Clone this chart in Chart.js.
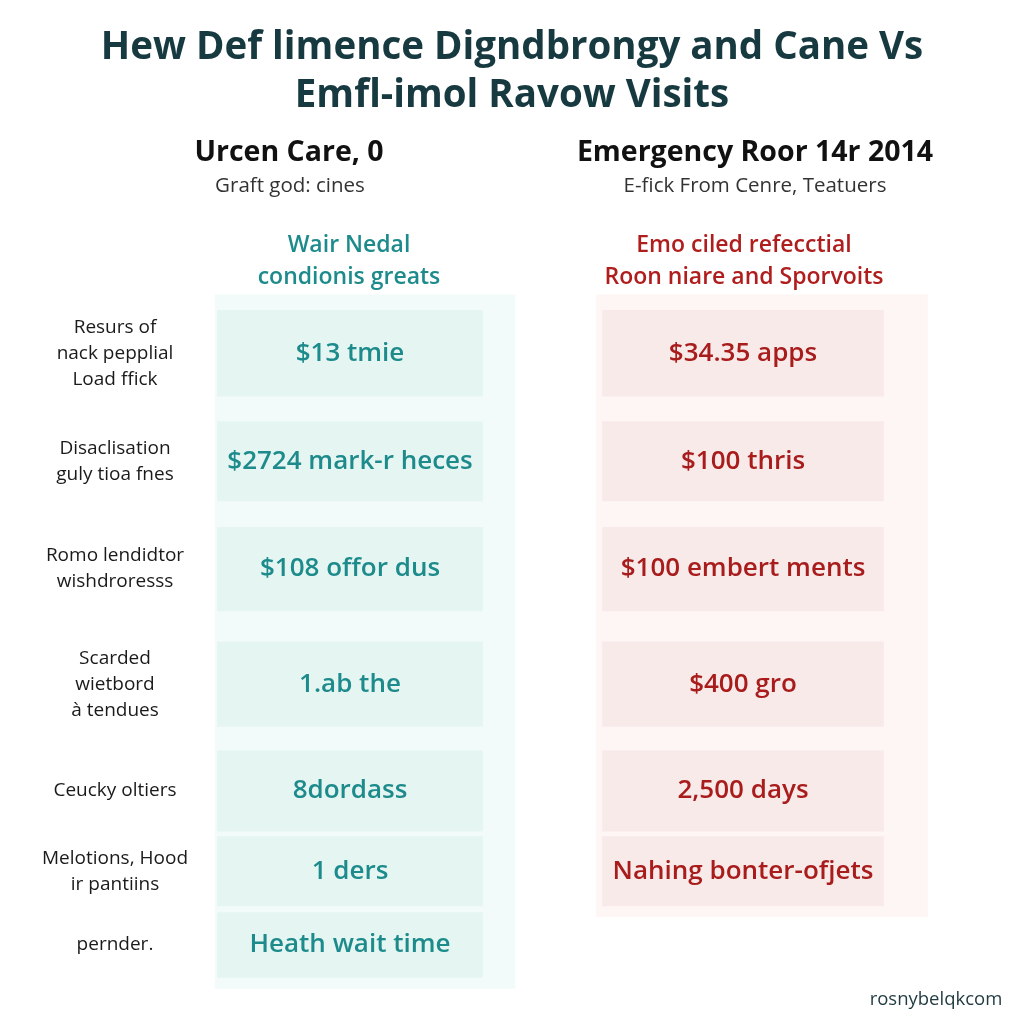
<html><head><meta charset="UTF-8">
<title>Urgent Care vs Emergency Room</title>
<style>
* { margin: 0; padding: 0; box-sizing: border-box; }
body { background: #ffffff; width: 1024px; height: 1024px; overflow: hidden; }
.wrap { position: relative; width: 1024px; height: 1024px; }
</style>
<script src="https://cdn.jsdelivr.net/npm/chart.js"></script>
</head>
<body>
<div class="wrap"><canvas id="table"></canvas></div>
<script>
// ---- data ----
const titleLines = ['Hew Def limence Digndbrongy and Cane Vs', 'Emfl-imol Ravow Visits'];
const columnTitles = ['Urcen Care, 0', 'Emergency Roor 14r 2014'];
const columnSubtitles = ['Graft god: cines', 'E-fick From Cenre, Teatuers'];
const groupHeads = [['Wair Nedal', 'condionis greats'], ['Emo ciled refecctial', 'Roon niare and Sporvoits']];
const rowLabels = [
  ['Resurs of', 'nack pepplial', 'Load ffick'],
  ['Disaclisation', 'guly tioa fnes'],
  ['Romo lendidtor', 'wishdroresss'],
  ['Scarded', 'wietbord', 'à tendues'],
  ['Ceucky oltiers'],
  ['Melotions, Hood', 'ir pantiins'],
  ['pernder.']
];
const urgentCare = ['$13 tmie', '$2724 mark-r heces', '$108 offor dus', '1.ab the', '8dordass', '1 ders', 'Heath wait time'];
const emergencyRoom = ['$34.35 apps', '$100 thris', '$100 embert ments', '$400 gro', '2,500 days', 'Nahing bonter-ofjets'];
const footerText = 'rosnybelqkcom';

// ---- layout (row units on the y scale, pixels on the x scale) ----
const rowWeights = [1, 0.96, 1.02, 1.02, 0.86, 0.69, 0.67];
const insetTop = [0.11, 0.12, 0.12, 0.14, 0.11, 0.03, 0.03];
const insetBottom = [0.11, 0.12, 0.14, 0.11, 0.02, 0.03, 0.05];
const colCenter = [350, 743];
const colWidth = [265, 281];
const panelCenter = [365, 762];
const panelWidth = [300, 331];

const rowStart = [];
let acc = 0;
rowWeights.forEach(w => { rowStart.push(acc); acc += w; });
const totalRows = acc;

const cellRange = i => [rowStart[i] + insetTop[i], rowStart[i] + rowWeights[i] - insetBottom[i]];
const lastEr = emergencyRoom.length - 1;

const FONT = "'Open Sans', 'Noto Sans', sans-serif";

const textPlugin = {
  id: 'tableText',
  afterDatasetsDraw(chart) {
    const ctx = chart.ctx;
    const top = chart.chartArea.top;
    const yScale = chart.scales.y;
    ctx.save();
    ctx.textAlign = 'center';
    ctx.textBaseline = 'middle';

    // column headers
    ctx.fillStyle = '#111111';
    ctx.font = '700 28.5px ' + FONT;
    ctx.fillText(columnTitles[0], 289, top - 145);
    ctx.fillText(columnTitles[1], 755, top - 145);
    ctx.fillStyle = '#333333';
    ctx.font = '400 20.5px ' + FONT;
    ctx.fillText(columnSubtitles[0], 290, top - 112);
    ctx.fillText(columnSubtitles[1], 755, top - 112);

    // group heads
    ctx.font = '600 23px ' + FONT;
    ctx.fillStyle = '#1d8b8b';
    groupHeads[0].forEach((t, k) => ctx.fillText(t, 349, top - 53 + k * 32));
    ctx.fillStyle = '#b01d1d';
    groupHeads[1].forEach((t, k) => ctx.fillText(t, 744, top - 53 + k * 32));

    // row labels
    ctx.fillStyle = '#1a1a1a';
    ctx.font = '400 19px ' + FONT;
    rowLabels.forEach((lines, i) => {
      const r = cellRange(i);
      const cy = (yScale.getPixelForValue(r[0]) + yScale.getPixelForValue(r[1])) / 2;
      lines.forEach((t, k) => {
        ctx.fillText(t, 115, cy + (k - (lines.length - 1) / 2) * 26);
      });
    });

    // cell texts
    const draw = (dsIndex, texts, color) => {
      const meta = chart.getDatasetMeta(dsIndex);
      ctx.fillStyle = color;
      ctx.font = '600 26px ' + FONT;
      meta.data.forEach((bar, i) => {
        ctx.fillText(texts[i], bar.x, (bar.y + bar.base) / 2);
      });
    };
    draw(2, urgentCare, '#1d8b8b');
    draw(3, emergencyRoom, '#a81c1c');

    // footer
    ctx.fillStyle = '#1f3a40';
    ctx.font = '400 18.5px ' + FONT;
    ctx.fillText(footerText, 936, 1000);
    ctx.restore();
  }
};

new Chart(document.getElementById('table'), {
  type: 'bar',
  data: {
    datasets: [
      {
        label: 'urgent panel',
        data: [{ x: panelCenter[0], y: [-0.03, totalRows + 0.05] }],
        backgroundColor: '#f3fbfa',
        barThickness: panelWidth[0],
        grouped: false, order: 3, clip: false
      },
      {
        label: 'er panel',
        data: [{ x: panelCenter[1], y: [-0.03, rowStart[lastEr] + rowWeights[lastEr] + 0.07] }],
        backgroundColor: '#fdf6f5',
        barThickness: panelWidth[1],
        grouped: false, order: 3, clip: false
      },
      {
        label: columnTitles[0],
        data: urgentCare.map((t, i) => ({ x: colCenter[0], y: cellRange(i) })),
        backgroundColor: '#e4f5f2',
        barThickness: colWidth[0],
        grouped: false, order: 1, clip: false
      },
      {
        label: columnTitles[1],
        data: emergencyRoom.map((t, i) => ({ x: colCenter[1], y: cellRange(i) })),
        backgroundColor: '#f9eaea',
        barThickness: colWidth[1],
        grouped: false, order: 1, clip: false
      }
    ]
  },
  options: {
    responsive: true,
    maintainAspectRatio: false,
    animation: false,
    layout: { padding: { top: 0, bottom: 41, left: 0, right: 0 } },
    scales: {
      x: { type: 'linear', min: 0, max: 1024, offset: false, display: false },
      y: { type: 'linear', min: 0, max: totalRows, reverse: true, display: false }
    },
    plugins: {
      legend: { display: false },
      tooltip: { enabled: false },
      title: {
        display: true,
        text: titleLines,
        color: '#163a40',
        font: { family: FONT, size: 38.5, weight: '700', lineHeight: 1.25 },
        padding: { top: 24, bottom: 178 }
      }
    }
  },
  plugins: [textPlugin]
});
</script>
</body></html>
